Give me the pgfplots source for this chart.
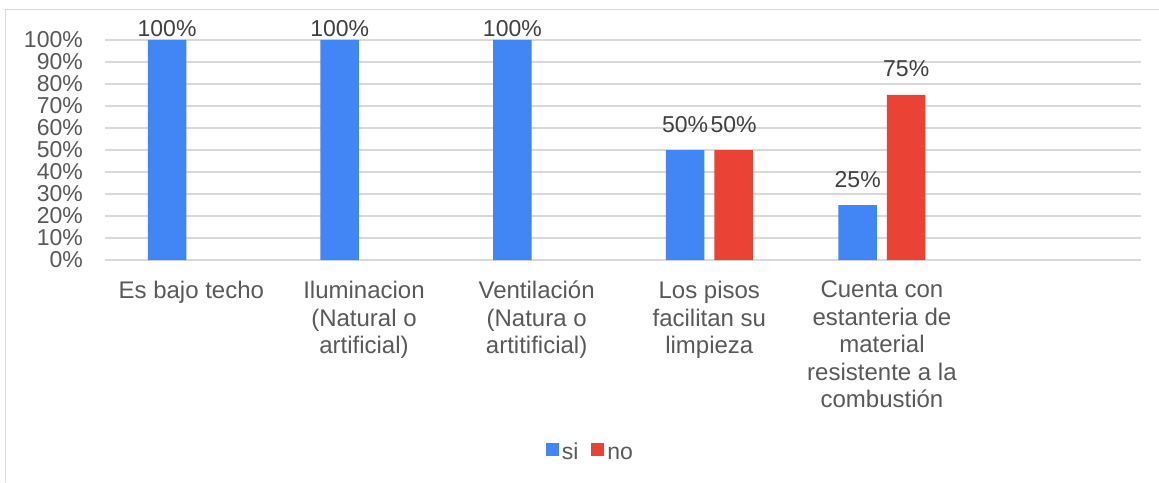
\documentclass[border=0pt]{standalone}
\usepackage{fontspec}
\setmainfont{Liberation Sans}
\usepackage{pgfplots}
\pgfplotsset{compat=1.18}
\definecolor{cblue}{HTML}{4285F4}
\definecolor{cred}{HTML}{EA4335}
\definecolor{cgrid}{HTML}{D9D9D9}
\definecolor{ctick}{HTML}{595959}
\definecolor{clabel}{HTML}{404040}
\begin{document}
\begin{tikzpicture}
\path[use as bounding box] (0,0) rectangle (1159pt,482pt);
\draw[cgrid, line width=1pt] (5pt,0pt) -- (5pt,472pt) -- (1159pt,472pt);
\begin{axis}[
 at={(105pt,222pt)}, anchor=south west,
 scale only axis, width=1036pt, height=220pt,
 ybar=10pt, bar width=38.5pt,
 xmin=-0.5, xmax=5.5, ymin=0, ymax=100,
 xtick={0,1,2,3,4},
 xticklabels={Es bajo techo,{Iluminacion\\(Natural o\\artificial)},{Ventilación\\(Natura o\\artitificial)},{Los pisos\\facilitan su\\limpieza},{Cuenta con\\estanteria de\\material\\resistente a la\\combustión}},
 ytick={0,10,...,100},
 yticklabel={\pgfmathprintnumber{\tick}\%},
 ymajorgrids, grid style={cgrid, line width=1.3pt},
 axis line style={draw=none},
 major tick length=0pt,
 tick label style={font=\fontsize{23}{27.5}\selectfont, text=ctick},
 /pgf/number format/assume math mode=true,
 yticklabel style={anchor=east, inner sep=0pt, xshift=-22pt},
 xticklabel style={anchor=north, inner sep=0pt, yshift=-21pt, align=center, font=\fontsize{24}{27.5}\selectfont},
 nodes near coords={\pgfmathprintnumber{\pgfplotspointmeta}\%},
 visualization depends on={y \as \rawy},
 every node near coord/.append style={anchor=base, inner sep=0pt, yshift={3+15*(\rawy<99)}, font=\fontsize{23}{27.5}\selectfont, text=clabel, /pgf/number format/assume math mode=true},
 legend columns=2,
 legend style={at={(0.469,-0.868)}, anchor=center, draw=none, fill=none,
   font=\fontsize{23}{27.5}\selectfont, text=ctick, inner sep=0pt,
   nodes={inner xsep=3pt, inner ysep=0pt},
   /tikz/every even column/.append style={column sep=10pt}},
 clip=false,
]
\addplot[fill=cblue, draw=none, legend image code/.code={\fill[cblue] (0pt,-5.5pt) rectangle (13pt,7.5pt);}] coordinates {(0,100) (1,100) (2,100) (3,50) (4,25)};
\addlegendentry{\strut si}
\addplot[fill=cred, draw=none, legend image code/.code={\fill[cred] (0pt,-5.5pt) rectangle (13pt,7.5pt);}] coordinates {(3,50) (4,75)};
\addlegendentry{\strut no}
\end{axis}
\end{tikzpicture}
\end{document}
